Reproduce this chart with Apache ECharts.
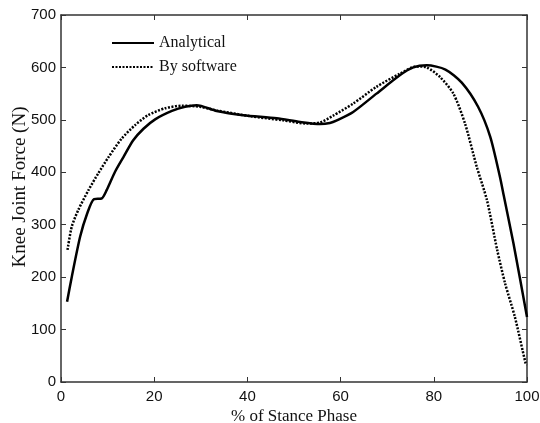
<!DOCTYPE html>
<html><head><meta charset="utf-8">
<script src="https://cdn.jsdelivr.net/npm/echarts@6/dist/echarts.min.js"></script>
<style>html,body{margin:0;padding:0;background:#fff}#c{width:540px;height:423px}</style>
</head><body><div id="c"></div>
<script>
const xTicks = [0, 20, 40, 60, 80, 100];
const yTicks = [0, 100, 200, 300, 400, 500, 600, 700];
const analyticalX = [1.3, 2.3, 4.1, 5.6, 7.1, 8.7, 9.8, 11.6, 13.4, 15.5, 17.7, 20.2, 23.8, 26.6, 29.1, 33.4, 39.1, 46.3, 51.3, 55.6, 57.7, 59.2, 62.7, 67.7, 72.7, 75.6, 78.5, 82.5, 86.0, 89.5, 92.1, 94.2, 95.0, 97.1, 100];
const analyticalY = [153, 200, 277, 321, 349, 350, 366, 401, 429, 461, 483, 501, 517, 525, 528, 517, 509, 503, 496, 492, 494, 499, 515, 550, 585, 600, 604, 596, 571, 525, 468, 391, 356, 264, 124];
const softwareX = [1.4, 2.3, 3.7, 5.9, 8.0, 10.2, 13.0, 15.9, 18.7, 22.3, 25.9, 29.8, 33.4, 40.6, 47.7, 52.7, 55.6, 58.4, 62.7, 67.7, 72.7, 76.3, 78.5, 81.3, 84.2, 86.7, 89.2, 91.4, 93.6, 95.3, 97.4, 99.7, 100];
const softwareY = [252, 296, 328, 366, 398, 429, 464, 490, 509, 522, 527, 525, 518, 507, 499, 493, 495, 508, 531, 563, 588, 602, 600, 582, 550, 493, 411, 347, 252, 188, 124, 36, 33];
const seriesNames = ['Analytical', 'By software'];

const pair = (xs, ys) => xs.map((x, i) => [x, ys[i]]);
const serif = '"Liberation Serif", "Times New Roman", serif';
const sans = '"Liberation Sans", Arial, sans-serif';

const chart = echarts.init(document.getElementById('c'), null, {renderer: 'canvas'});
const axisCommon = {
  type: 'value',
  axisLine: {show: true, onZero: false, lineStyle: {color: '#333', width: 1.5}},
  axisTick: {show: true, inside: true, length: 5, lineStyle: {color: '#333', width: 1}},
  splitLine: {show: false}
};
chart.setOption({
  animation: false,
  grid: {left: 61, right: 13, top: 15, bottom: 41, outerBoundsMode: 'none', containLabel: false},
  legend: {
    left: 106, top: 30, orient: 'vertical', itemGap: 8,
    itemWidth: 42, itemHeight: 14,
    itemStyle: {opacity: 0},
    textStyle: {fontFamily: serif, fontSize: 16, color: '#111'},
    data: seriesNames.map(n => ({name: n}))
  },
  xAxis: [
    Object.assign({}, axisCommon, {
      min: xTicks[0], max: xTicks[xTicks.length - 1], interval: 20,
      name: '% of Stance Phase', nameLocation: 'middle', nameGap: 26, nameMoveOverlap: false,
      nameTextStyle: {fontFamily: serif, fontSize: 17, color: '#111'},
      axisLabel: {fontFamily: sans, fontSize: 15, color: '#111', margin: 7}
    }),
    Object.assign({}, axisCommon, {
      position: 'top', min: 0, max: 100, interval: 20, axisLabel: {show: false}
    })
  ],
  yAxis: [
    Object.assign({}, axisCommon, {
      min: yTicks[0], max: yTicks[yTicks.length - 1], interval: 100,
      name: 'Knee Joint Force (N)', nameLocation: 'middle', nameGap: 31, nameMoveOverlap: false,
      nameTextStyle: {fontFamily: serif, fontSize: 19, color: '#111', padding: [0, 0, 0, 23]},
      axisLabel: {fontFamily: sans, fontSize: 15, color: '#111', margin: 5}
    }),
    Object.assign({}, axisCommon, {
      position: 'right', min: 0, max: 700, interval: 100, axisLabel: {show: false}
    })
  ],
  series: [
    {
      name: seriesNames[0], type: 'line', smooth: 0.25, symbol: 'none',
      data: pair(analyticalX, analyticalY),
      lineStyle: {color: '#000', width: 2.5, type: 'solid'},
      itemStyle: {color: '#000'}
    },
    {
      name: seriesNames[1], type: 'line', smooth: 0.25, symbol: 'none',
      data: pair(softwareX, softwareY),
      lineStyle: {color: '#000', width: 2.5, type: [2, 1.5]},
      itemStyle: {color: '#000'}
    }
  ]
});
</script></body></html>
